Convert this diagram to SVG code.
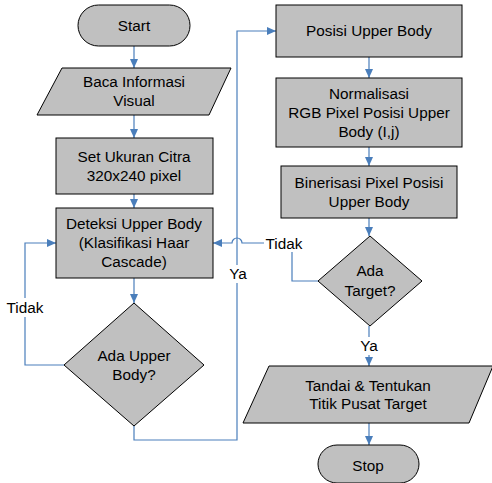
<svg xmlns="http://www.w3.org/2000/svg" width="492" height="483" viewBox="0 0 492 483">
<style>
.n{fill:#c0c0c0;stroke:#000;stroke-width:1}
.t{font-family:"Liberation Sans",Arial,sans-serif;font-size:15.3px;fill:#000;text-anchor:middle}
.c{fill:none;stroke:#4a7ebb;stroke-width:1.2}
.lb{fill:#fff}
</style>
<defs>
<marker id="a" markerUnits="userSpaceOnUse" markerWidth="10" markerHeight="10" refX="9" refY="4" orient="auto">
<path d="M0,0 L9,4 L0,8 Z" fill="#4a7ebb"/>
</marker>
</defs>
<rect width="492" height="483" fill="#fff"/>
<g id="connectors">
<path class="c" d="M134,46 V68" marker-end="url(#a)"/>
<path class="c" d="M134,115 V138" marker-end="url(#a)"/>
<path class="c" d="M134,194 V208" marker-end="url(#a)"/>
<path class="c" d="M134,278 V303" marker-end="url(#a)"/>
<path class="c" d="M64,365 H25 V243 H56" marker-end="url(#a)"/>
<path class="c" d="M134,426 V440 H237 V31 H276" marker-end="url(#a)"/>
<path class="c" d="M369,57 V78" marker-end="url(#a)"/>
<path class="c" d="M369,147 V166" marker-end="url(#a)"/>
<path class="c" d="M369,218 V236" marker-end="url(#a)"/>
<path class="c" d="M318,281 H292 V243 H242 A5,5 0 0 0 232,243 H213" marker-end="url(#a)"/>
<path class="c" d="M369,326 V366" marker-end="url(#a)"/>
<path class="c" d="M369,423 V445" marker-end="url(#a)"/>
<rect class="lb" x="6" y="298" width="38" height="19"/>
<text class="t" x="25" y="313">Tidak</text>
<rect class="lb" x="228" y="265" width="19" height="18"/>
<text class="t" x="238" y="279">Ya</text>
<rect class="lb" x="264" y="234" width="40" height="18"/>
<text class="t" x="284" y="248.5">Tidak</text>
<rect class="lb" x="359" y="337" width="21" height="18"/>
<text class="t" x="369" y="351">Ya</text>
</g>
<g id="start">
<rect class="n" x="78" y="5" width="112" height="41" rx="20.5"/>
<text class="t" x="134" y="31">Start</text>
</g>
<g id="baca">
<path class="n" d="M62,68 H231 L209,115 H37 Z"/>
<text class="t" x="134" y="87">Baca Informasi</text>
<text class="t" x="134" y="106">Visual</text>
</g>
<g id="set">
<rect class="n" x="56" y="138" width="157" height="56"/>
<text class="t" x="134" y="162">Set Ukuran Citra</text>
<text class="t" x="134" y="181">320x240 pixel</text>
</g>
<g id="deteksi">
<rect class="n" x="56" y="208" width="157" height="70"/>
<text class="t" x="134" y="229">Deteksi Upper Body</text>
<text class="t" x="134" y="248">(Klasifikasi Haar</text>
<text class="t" x="134" y="267">Cascade)</text>
</g>
<g id="ada-upper">
<path class="n" d="M134,303 L204,365 L134,426 L64,365 Z"/>
<text class="t" x="134" y="361">Ada Upper</text>
<text class="t" x="134" y="380">Body?</text>
</g>
<g id="posisi">
<rect class="n" x="276" y="5" width="186" height="52"/>
<text class="t" x="369" y="36">Posisi Upper Body</text>
</g>
<g id="normalisasi">
<rect class="n" x="276" y="78" width="186" height="69"/>
<text class="t" x="369" y="99">Normalisasi</text>
<text class="t" x="369" y="118">RGB Pixel Posisi Upper</text>
<text class="t" x="369" y="137">Body (I,j)</text>
</g>
<g id="binerisasi">
<rect class="n" x="281" y="166" width="176" height="52"/>
<text class="t" x="369" y="188">Binerisasi Pixel Posisi</text>
<text class="t" x="369" y="207">Upper Body</text>
</g>
<g id="ada-target">
<path class="n" d="M370,236 L422,281 L370,326 L318,281 Z"/>
<text class="t" x="370" y="276">Ada</text>
<text class="t" x="370" y="296">Target?</text>
</g>
<g id="tandai">
<path class="n" d="M269,366 H493 L469,423 H243 Z"/>
<text class="t" x="368" y="391">Tandai &amp; Tentukan</text>
<text class="t" x="368" y="409">Titik Pusat Target</text>
</g>
<g id="stop">
<rect class="n" x="318" y="445" width="101" height="38" rx="19"/>
<text class="t" x="368" y="471">Stop</text>
</g>
</svg>
